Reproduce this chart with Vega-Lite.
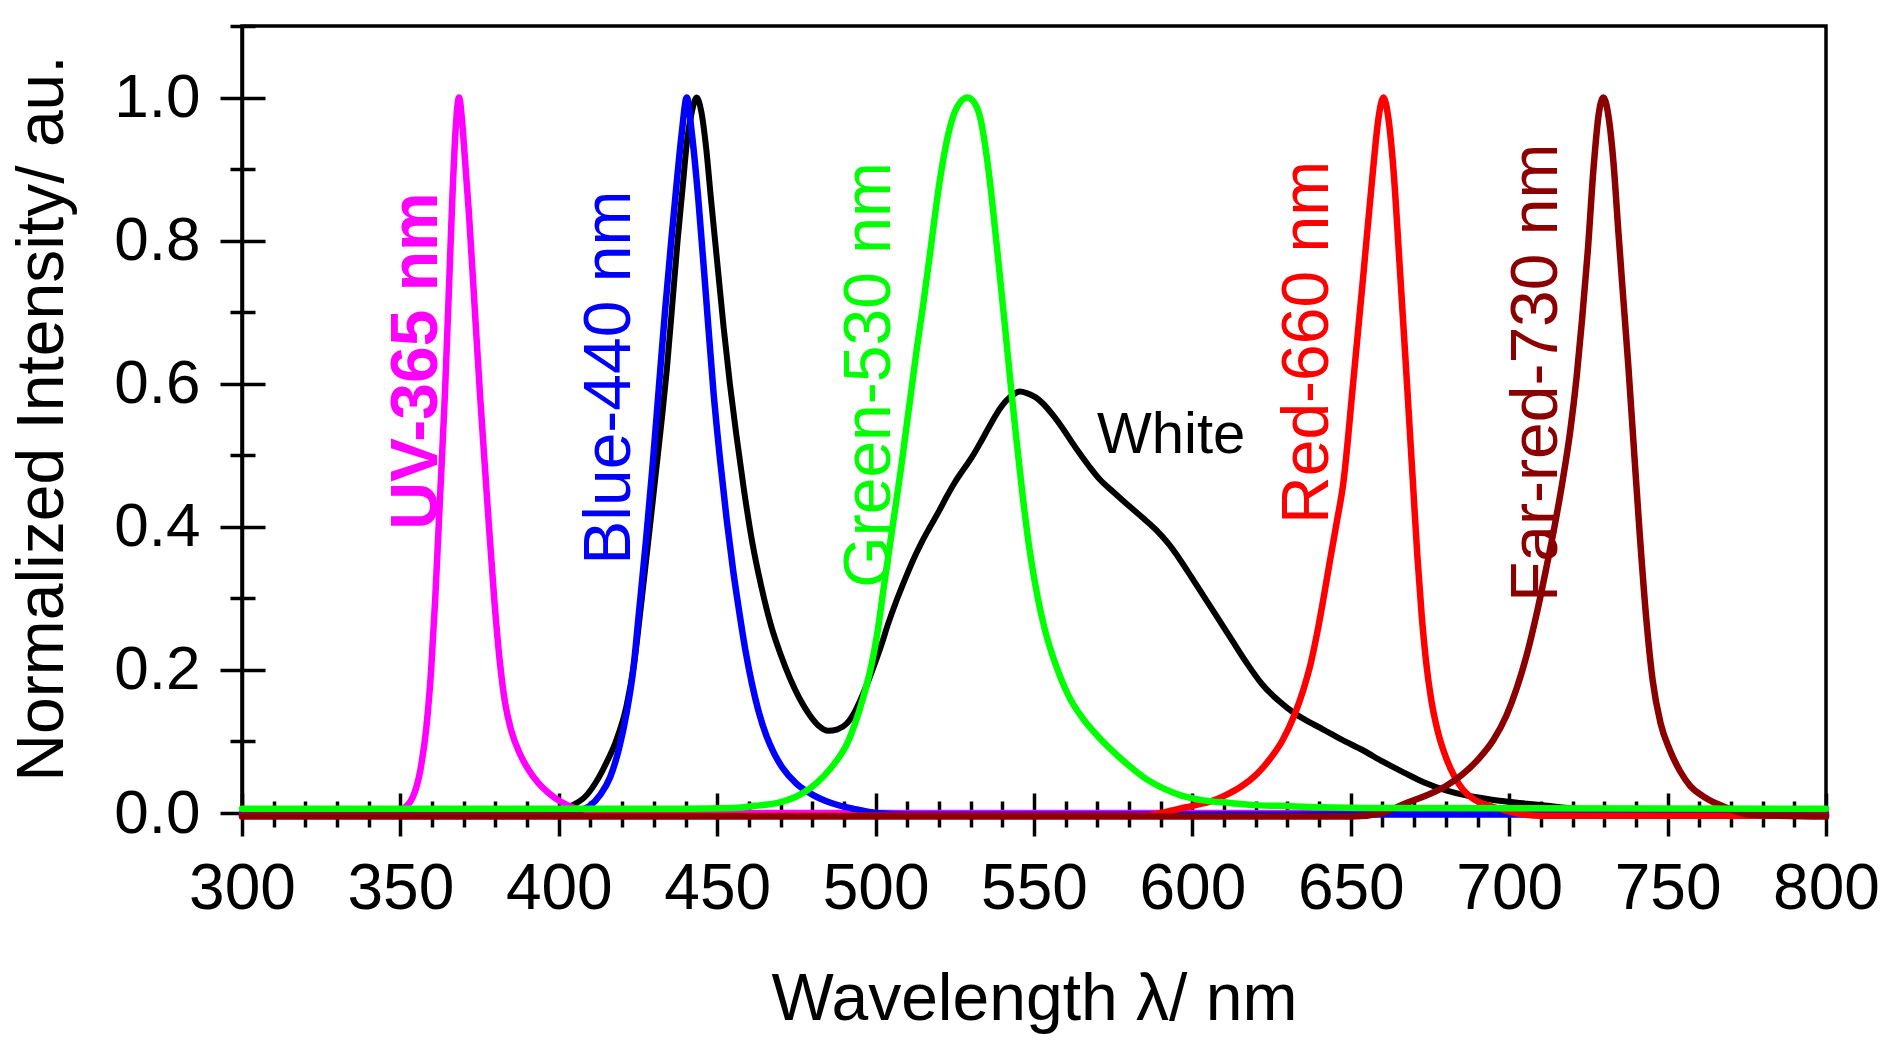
{
  "$schema": "https://vega.github.io/schema/vega-lite/v6.json",
  "width": 1584,
  "height": 787,
  "autosize": {"type": "none"},
  "padding": {"left": 242, "top": 26, "right": 59, "bottom": 238},
  "background": "white",
  "config": {
    "font": "Liberation Sans",
    "view": {"stroke": "black", "strokeWidth": 3.5},
    "axis": {"grid": false, "domainColor": "black", "tickColor": "black", "labelColor": "black", "titleColor": "black", "labelFont": "Liberation Sans", "titleFont": "Liberation Sans", "titleFontWeight": "normal", "labelFlush": false, "labelOverlap": false, "labelBound": false}
  },
  "datasets": {
    "spectra": [
      {"s":"W","nm":300,"v":0},{"s":"W","nm":350,"v":0},{"s":"W","nm":395,"v":0},{"s":"W","nm":400,"v":0.003},{"s":"W","nm":404,"v":0.01},{"s":"W","nm":408.8,"v":0.025},{"s":"W","nm":412,"v":0.045},{"s":"W","nm":415,"v":0.07},{"s":"W","nm":418,"v":0.1},{"s":"W","nm":421.4,"v":0.15},{"s":"W","nm":423.8,"v":0.21},{"s":"W","nm":426.2,"v":0.3},{"s":"W","nm":428.5,"v":0.39},{"s":"W","nm":430.5,"v":0.47},{"s":"W","nm":432.5,"v":0.55},{"s":"W","nm":434.1,"v":0.62},{"s":"W","nm":436,"v":0.72},{"s":"W","nm":437.5,"v":0.8},{"s":"W","nm":439,"v":0.87},{"s":"W","nm":440.5,"v":0.94},{"s":"W","nm":442,"v":0.98},{"s":"W","nm":443.5,"v":1.0},{"s":"W","nm":445,"v":0.98},{"s":"W","nm":446.5,"v":0.93},{"s":"W","nm":448,"v":0.86},{"s":"W","nm":450,"v":0.77},{"s":"W","nm":452,"v":0.68},{"s":"W","nm":454,"v":0.6},{"s":"W","nm":456,"v":0.53},{"s":"W","nm":458.5,"v":0.45},{"s":"W","nm":461,"v":0.38},{"s":"W","nm":464,"v":0.315},{"s":"W","nm":467,"v":0.262},{"s":"W","nm":470,"v":0.222},{"s":"W","nm":473,"v":0.188},{"s":"W","nm":476,"v":0.16},{"s":"W","nm":479,"v":0.138},{"s":"W","nm":482,"v":0.122},{"s":"W","nm":485,"v":0.115},{"s":"W","nm":488,"v":0.117},{"s":"W","nm":490.9,"v":0.125},{"s":"W","nm":493.5,"v":0.142},{"s":"W","nm":496.1,"v":0.167},{"s":"W","nm":499,"v":0.2},{"s":"W","nm":501.6,"v":0.232},{"s":"W","nm":504,"v":0.265},{"s":"W","nm":506.7,"v":0.298},{"s":"W","nm":509.5,"v":0.329},{"s":"W","nm":511.9,"v":0.354},{"s":"W","nm":514.5,"v":0.378},{"s":"W","nm":517.2,"v":0.4},{"s":"W","nm":520,"v":0.422},{"s":"W","nm":522.4,"v":0.442},{"s":"W","nm":525,"v":0.462},{"s":"W","nm":527.7,"v":0.48},{"s":"W","nm":530.5,"v":0.498},{"s":"W","nm":533,"v":0.517},{"s":"W","nm":535.5,"v":0.537},{"s":"W","nm":538.2,"v":0.558},{"s":"W","nm":541,"v":0.575},{"s":"W","nm":543.5,"v":0.585},{"s":"W","nm":545.5,"v":0.589},{"s":"W","nm":547.7,"v":0.587},{"s":"W","nm":550.5,"v":0.581},{"s":"W","nm":552.9,"v":0.572},{"s":"W","nm":556,"v":0.556},{"s":"W","nm":559.3,"v":0.536},{"s":"W","nm":562,"v":0.518},{"s":"W","nm":564.5,"v":0.502},{"s":"W","nm":567.5,"v":0.484},{"s":"W","nm":570.8,"v":0.466},{"s":"W","nm":575.5,"v":0.447},{"s":"W","nm":580.3,"v":0.428},{"s":"W","nm":584.5,"v":0.412},{"s":"W","nm":588.7,"v":0.395},{"s":"W","nm":592.5,"v":0.376},{"s":"W","nm":596.1,"v":0.354},{"s":"W","nm":599.5,"v":0.331},{"s":"W","nm":602.4,"v":0.311},{"s":"W","nm":605.5,"v":0.29},{"s":"W","nm":608.7,"v":0.268},{"s":"W","nm":613,"v":0.238},{"s":"W","nm":617.1,"v":0.21},{"s":"W","nm":622,"v":0.18},{"s":"W","nm":627.7,"v":0.155},{"s":"W","nm":632,"v":0.14},{"s":"W","nm":636.5,"v":0.128},{"s":"W","nm":641.2,"v":0.117},{"s":"W","nm":647,"v":0.103},{"s":"W","nm":654.1,"v":0.087},{"s":"W","nm":660,"v":0.072},{"s":"W","nm":667,"v":0.056},{"s":"W","nm":673,"v":0.043},{"s":"W","nm":679.8,"v":0.032},{"s":"W","nm":686,"v":0.025},{"s":"W","nm":692.7,"v":0.02},{"s":"W","nm":699,"v":0.016},{"s":"W","nm":705.6,"v":0.013},{"s":"W","nm":712,"v":0.01},{"s":"W","nm":718.5,"v":0.007},{"s":"W","nm":725,"v":0.005},{"s":"W","nm":735,"v":0.003},{"s":"W","nm":750,"v":0.001},{"s":"W","nm":800,"v":0},

      {"s":"UV","nm":300,"v":0},{"s":"UV","nm":340,"v":0},{"s":"UV","nm":348,"v":0.002},{"s":"UV","nm":352,"v":0.01},{"s":"UV","nm":354,"v":0.023},{"s":"UV","nm":356.3,"v":0.06},{"s":"UV","nm":358.2,"v":0.12},{"s":"UV","nm":359.7,"v":0.2},{"s":"UV","nm":361,"v":0.3},{"s":"UV","nm":362.5,"v":0.44},{"s":"UV","nm":364.1,"v":0.59},{"s":"UV","nm":365.3,"v":0.73},{"s":"UV","nm":366.4,"v":0.86},{"s":"UV","nm":367.5,"v":0.96},{"s":"UV","nm":368.5,"v":1.0},{"s":"UV","nm":369.6,"v":0.96},{"s":"UV","nm":370.6,"v":0.9},{"s":"UV","nm":371.6,"v":0.84},{"s":"UV","nm":373.4,"v":0.71},{"s":"UV","nm":375.2,"v":0.58},{"s":"UV","nm":377.5,"v":0.43},{"s":"UV","nm":379.6,"v":0.3},{"s":"UV","nm":381.3,"v":0.215},{"s":"UV","nm":383,"v":0.155},{"s":"UV","nm":385,"v":0.115},{"s":"UV","nm":387.5,"v":0.085},{"s":"UV","nm":390.5,"v":0.06},{"s":"UV","nm":393.5,"v":0.042},{"s":"UV","nm":396.5,"v":0.029},{"s":"UV","nm":400.5,"v":0.016},{"s":"UV","nm":405,"v":0.007},{"s":"UV","nm":410,"v":0.002},{"s":"UV","nm":420,"v":0},{"s":"UV","nm":500,"v":0},{"s":"UV","nm":600,"v":0},{"s":"UV","nm":700,"v":0},{"s":"UV","nm":800,"v":0},

      {"s":"B","nm":300,"v":-0.002},{"s":"B","nm":400,"v":-0.002},{"s":"B","nm":405,"v":0.002},{"s":"B","nm":409.8,"v":0.01},{"s":"B","nm":413,"v":0.025},{"s":"B","nm":416.2,"v":0.05},{"s":"B","nm":419,"v":0.09},{"s":"B","nm":421.4,"v":0.14},{"s":"B","nm":423.5,"v":0.2},{"s":"B","nm":425.3,"v":0.28},{"s":"B","nm":427.5,"v":0.38},{"s":"B","nm":429.5,"v":0.48},{"s":"B","nm":431.5,"v":0.59},{"s":"B","nm":433.5,"v":0.7},{"s":"B","nm":435.5,"v":0.8},{"s":"B","nm":437.2,"v":0.88},{"s":"B","nm":438.8,"v":0.95},{"s":"B","nm":440.4,"v":1.0},{"s":"B","nm":442,"v":0.95},{"s":"B","nm":444,"v":0.86},{"s":"B","nm":446.5,"v":0.72},{"s":"B","nm":448.8,"v":0.59},{"s":"B","nm":451,"v":0.49},{"s":"B","nm":453,"v":0.41},{"s":"B","nm":455,"v":0.34},{"s":"B","nm":457,"v":0.28},{"s":"B","nm":459,"v":0.225},{"s":"B","nm":461,"v":0.18},{"s":"B","nm":463,"v":0.143},{"s":"B","nm":465.6,"v":0.107},{"s":"B","nm":468,"v":0.083},{"s":"B","nm":470.5,"v":0.064},{"s":"B","nm":475,"v":0.041},{"s":"B","nm":480.3,"v":0.025},{"s":"B","nm":486,"v":0.014},{"s":"B","nm":494,"v":0.005},{"s":"B","nm":500,"v":0},{"s":"B","nm":510,"v":-0.002},{"s":"B","nm":800,"v":-0.002},

      {"s":"G","nm":300,"v":0.006},{"s":"G","nm":440,"v":0.006},{"s":"G","nm":455,"v":0.007},{"s":"G","nm":462,"v":0.01},{"s":"G","nm":469.8,"v":0.015},{"s":"G","nm":475,"v":0.023},{"s":"G","nm":479.5,"v":0.035},{"s":"G","nm":483.5,"v":0.051},{"s":"G","nm":487.5,"v":0.072},{"s":"G","nm":491,"v":0.097},{"s":"G","nm":493.5,"v":0.125},{"s":"G","nm":496,"v":0.16},{"s":"G","nm":498.5,"v":0.203},{"s":"G","nm":500.5,"v":0.25},{"s":"G","nm":502.4,"v":0.31},{"s":"G","nm":504.2,"v":0.365},{"s":"G","nm":506,"v":0.42},{"s":"G","nm":507.8,"v":0.475},{"s":"G","nm":509.6,"v":0.535},{"s":"G","nm":511.4,"v":0.595},{"s":"G","nm":513.2,"v":0.655},{"s":"G","nm":515,"v":0.71},{"s":"G","nm":517.2,"v":0.783},{"s":"G","nm":520.3,"v":0.885},{"s":"G","nm":522.5,"v":0.94},{"s":"G","nm":524.5,"v":0.974},{"s":"G","nm":527,"v":0.995},{"s":"G","nm":529,"v":1.0},{"s":"G","nm":531,"v":0.994},{"s":"G","nm":533,"v":0.972},{"s":"G","nm":535.6,"v":0.9},{"s":"G","nm":538.2,"v":0.795},{"s":"G","nm":540.5,"v":0.695},{"s":"G","nm":542.5,"v":0.605},{"s":"G","nm":544.5,"v":0.52},{"s":"G","nm":546.5,"v":0.44},{"s":"G","nm":548.7,"v":0.365},{"s":"G","nm":551,"v":0.305},{"s":"G","nm":553.5,"v":0.255},{"s":"G","nm":556,"v":0.218},{"s":"G","nm":558.5,"v":0.188},{"s":"G","nm":561,"v":0.163},{"s":"G","nm":565.6,"v":0.131},{"s":"G","nm":570,"v":0.108},{"s":"G","nm":574,"v":0.09},{"s":"G","nm":580,"v":0.066},{"s":"G","nm":585.6,"v":0.047},{"s":"G","nm":591,"v":0.034},{"s":"G","nm":596.1,"v":0.025},{"s":"G","nm":603,"v":0.018},{"s":"G","nm":611.9,"v":0.014},{"s":"G","nm":620,"v":0.011},{"s":"G","nm":627.7,"v":0.01},{"s":"G","nm":640,"v":0.008},{"s":"G","nm":660,"v":0.007},{"s":"G","nm":800,"v":0.006},

      {"s":"R","nm":300,"v":-0.004},{"s":"R","nm":585,"v":-0.004},{"s":"R","nm":592,"v":0.002},{"s":"R","nm":598,"v":0.008},{"s":"R","nm":603,"v":0.013},{"s":"R","nm":607,"v":0.018},{"s":"R","nm":611,"v":0.026},{"s":"R","nm":615.4,"v":0.037},{"s":"R","nm":620,"v":0.053},{"s":"R","nm":624.4,"v":0.075},{"s":"R","nm":628.5,"v":0.102},{"s":"R","nm":632.2,"v":0.137},{"s":"R","nm":635,"v":0.172},{"s":"R","nm":637.4,"v":0.21},{"s":"R","nm":639.4,"v":0.252},{"s":"R","nm":641.3,"v":0.298},{"s":"R","nm":643.4,"v":0.352},{"s":"R","nm":645.5,"v":0.405},{"s":"R","nm":647.6,"v":0.46},{"s":"R","nm":650.8,"v":0.604},{"s":"R","nm":654,"v":0.754},{"s":"R","nm":657.1,"v":0.903},{"s":"R","nm":658.7,"v":0.97},{"s":"R","nm":660.3,"v":1.0},{"s":"R","nm":661.9,"v":0.97},{"s":"R","nm":663.4,"v":0.903},{"s":"R","nm":665.5,"v":0.76},{"s":"R","nm":667.6,"v":0.61},{"s":"R","nm":669.5,"v":0.47},{"s":"R","nm":671,"v":0.36},{"s":"R","nm":672.4,"v":0.275},{"s":"R","nm":673.8,"v":0.21},{"s":"R","nm":675.4,"v":0.158},{"s":"R","nm":677.4,"v":0.115},{"s":"R","nm":680,"v":0.078},{"s":"R","nm":682.6,"v":0.052},{"s":"R","nm":685.5,"v":0.032},{"s":"R","nm":688.9,"v":0.019},{"s":"R","nm":695.3,"v":0.008},{"s":"R","nm":700,"v":0.002},{"s":"R","nm":710,"v":-0.004},{"s":"R","nm":800,"v":-0.004},

      {"s":"F","nm":300,"v":-0.005},{"s":"F","nm":650,"v":-0.005},{"s":"F","nm":660,"v":0},{"s":"F","nm":667,"v":0.013},{"s":"F","nm":673,"v":0.023},{"s":"F","nm":679.8,"v":0.037},{"s":"F","nm":685,"v":0.053},{"s":"F","nm":690.2,"v":0.075},{"s":"F","nm":695,"v":0.102},{"s":"F","nm":699.2,"v":0.137},{"s":"F","nm":702.5,"v":0.176},{"s":"F","nm":705.6,"v":0.222},{"s":"F","nm":708.6,"v":0.277},{"s":"F","nm":711.6,"v":0.34},{"s":"F","nm":714.5,"v":0.405},{"s":"F","nm":717,"v":0.468},{"s":"F","nm":719.3,"v":0.535},{"s":"F","nm":721.3,"v":0.61},{"s":"F","nm":723,"v":0.69},{"s":"F","nm":724.8,"v":0.785},{"s":"F","nm":726.6,"v":0.9},{"s":"F","nm":728.2,"v":0.975},{"s":"F","nm":729.7,"v":1.0},{"s":"F","nm":731.3,"v":0.975},{"s":"F","nm":732.9,"v":0.91},{"s":"F","nm":734.5,"v":0.81},{"s":"F","nm":736,"v":0.72},{"s":"F","nm":737.6,"v":0.625},{"s":"F","nm":739.2,"v":0.52},{"s":"F","nm":741.2,"v":0.39},{"s":"F","nm":743.2,"v":0.275},{"s":"F","nm":745.3,"v":0.185},{"s":"F","nm":747.8,"v":0.125},{"s":"F","nm":750.7,"v":0.088},{"s":"F","nm":754,"v":0.058},{"s":"F","nm":757.1,"v":0.038},{"s":"F","nm":761,"v":0.024},{"s":"F","nm":765,"v":0.014},{"s":"F","nm":770,"v":0.005},{"s":"F","nm":775,"v":-0.002},{"s":"F","nm":800,"v":-0.005}
    ]
  },
  "data": {"name": "spectra"},
  "layer": [
    {
      "transform": [{"filter": "datum.s === 'W'"}],
      "mark": {"type": "line", "color": "black", "strokeWidth": 6, "interpolate": "monotone", "strokeJoin": "round", "strokeCap": "round"},
      "encoding": {
        "x": {"field": "nm", "type": "quantitative", "scale": {"domain": [300, 800], "nice": false, "zero": false},
          "axis": {"orient": "bottom", "values": [300, 350, 400, 450, 500, 550, 600, 650, 700, 750, 800], "format": "d", "ticks": false, "domain": true, "domainWidth": 3.5, "labelFontSize": 64, "labelPadding": 44, "title": "Wavelength λ/ nm", "titleFontSize": 66, "titleX": 792, "titleY": 206, "titleAlign": "center", "titleBaseline": "alphabetic"}},
        "y": {"field": "v", "type": "quantitative", "scale": {"domain": [0, 1.1], "nice": false, "zero": false},
          "axis": {"orient": "left", "values": [0, 0.2, 0.4, 0.6, 0.8, 1.0], "format": ".1f", "ticks": false, "domain": true, "domainWidth": 3.5, "labelFontSize": 62, "labelPadding": 42, "title": "Normalized Intensity/ au.", "titleFontSize": 66, "titleX": -180, "titleY": 392, "titleAngle": 270, "titleAlign": "center", "titleBaseline": "alphabetic"}}
      }
    },
    {
      "transform": [{"filter": "datum.s === 'UV'"}],
      "mark": {"type": "line", "color": "#FF00FF", "strokeWidth": 6.5, "interpolate": "monotone", "strokeJoin": "round", "strokeCap": "round"},
      "encoding": {
        "x": {"field": "nm", "type": "quantitative",
          "axis": {"orient": "bottom", "values": [300, 350, 400, 450, 500, 550, 600, 650, 700, 750, 800], "labels": false, "domain": false, "ticks": true, "tickSize": 43, "tickWidth": 3.5, "offset": -20, "title": null}},
        "y": {"field": "v", "type": "quantitative",
          "axis": {"orient": "left", "values": [0, 0.2, 0.4, 0.6, 0.8, 1.0], "labels": false, "domain": false, "ticks": true, "tickSize": 45, "tickWidth": 3.5, "offset": -23, "title": null}}
      }
    },
    {
      "transform": [{"filter": "datum.s === 'B'"}],
      "mark": {"type": "line", "color": "#0000FF", "strokeWidth": 6.5, "interpolate": "monotone", "strokeJoin": "round", "strokeCap": "round"},
      "encoding": {
        "x": {"field": "nm", "type": "quantitative",
          "axis": {"orient": "bottom", "values": [310, 320, 330, 340, 360, 370, 380, 390, 410, 420, 430, 440, 460, 470, 480, 490, 510, 520, 530, 540, 560, 570, 580, 590, 610, 620, 630, 640, 660, 670, 680, 690, 710, 720, 730, 740, 760, 770, 780, 790], "labels": false, "domain": false, "ticks": true, "tickSize": 26, "tickWidth": 3.5, "offset": -12, "title": null}},
        "y": {"field": "v", "type": "quantitative",
          "axis": {"orient": "left", "values": [0.1, 0.3, 0.5, 0.7, 0.9, 1.1], "labels": false, "domain": false, "ticks": true, "tickSize": 25, "tickWidth": 3.5, "offset": -13, "title": null}}
      }
    },
    {
      "transform": [{"filter": "datum.s === 'R'"}],
      "mark": {"type": "line", "color": "#FF0000", "strokeWidth": 6.5, "interpolate": "monotone", "strokeJoin": "round", "strokeCap": "round"},
      "encoding": {
        "x": {"field": "nm", "type": "quantitative", "axis": null},
        "y": {"field": "v", "type": "quantitative", "axis": null}
      }
    },
    {
      "transform": [{"filter": "datum.s === 'F'"}],
      "mark": {"type": "line", "color": "#8B0000", "strokeWidth": 6.5, "interpolate": "monotone", "strokeJoin": "round", "strokeCap": "round"},
      "encoding": {
        "x": {"field": "nm", "type": "quantitative", "axis": null},
        "y": {"field": "v", "type": "quantitative", "axis": null}
      }
    },
    {
      "transform": [{"filter": "datum.s === 'G'"}],
      "mark": {"type": "line", "color": "#00FF00", "strokeWidth": 6.5, "interpolate": "monotone", "strokeJoin": "round", "strokeCap": "round"},
      "encoding": {
        "x": {"field": "nm", "type": "quantitative", "axis": null},
        "y": {"field": "v", "type": "quantitative", "axis": null}
      }
    },
    {
      "data": {"values": [{}]},
      "mark": {"type": "text", "text": "UV-365 nm", "angle": 270, "align": "left", "baseline": "alphabetic", "fontSize": 66, "fontWeight": "bold", "color": "#FF00FF"},
      "encoding": {"x": {"datum": 361.6, "type": "quantitative", "axis": null}, "y": {"datum": 0.396, "type": "quantitative", "axis": null}}
    },
    {
      "data": {"values": [{}]},
      "mark": {"type": "text", "text": "Blue-440 nm", "angle": 270, "align": "left", "baseline": "alphabetic", "fontSize": 66, "color": "#0000FF"},
      "encoding": {"x": {"datum": 422.5, "type": "quantitative", "axis": null}, "y": {"datum": 0.347, "type": "quantitative", "axis": null}}
    },
    {
      "data": {"values": [{}]},
      "mark": {"type": "text", "text": "Green-530 nm", "angle": 270, "align": "left", "baseline": "alphabetic", "fontSize": 66, "color": "#00FF00"},
      "encoding": {"x": {"datum": 504.5, "type": "quantitative", "axis": null}, "y": {"datum": 0.315, "type": "quantitative", "axis": null}}
    },
    {
      "data": {"values": [{}]},
      "mark": {"type": "text", "text": "Red-660 nm", "angle": 270, "align": "left", "baseline": "alphabetic", "fontSize": 66, "color": "#FF0000"},
      "encoding": {"x": {"datum": 642.8, "type": "quantitative", "axis": null}, "y": {"datum": 0.404, "type": "quantitative", "axis": null}}
    },
    {
      "data": {"values": [{}]},
      "mark": {"type": "text", "text": "Far-red-730 nm", "angle": 270, "align": "left", "baseline": "alphabetic", "fontSize": 66, "color": "#8B0000"},
      "encoding": {"x": {"datum": 715.1, "type": "quantitative", "axis": null}, "y": {"datum": 0.295, "type": "quantitative", "axis": null}}
    },
    {
      "data": {"values": [{}]},
      "mark": {"type": "text", "text": "White", "align": "left", "baseline": "alphabetic", "fontSize": 58, "color": "black"},
      "encoding": {"x": {"datum": 569.9, "type": "quantitative", "axis": null}, "y": {"datum": 0.503, "type": "quantitative", "axis": null}}
    }
  ],
  "resolve": {"axis": {"x": "independent", "y": "independent"}}
}
